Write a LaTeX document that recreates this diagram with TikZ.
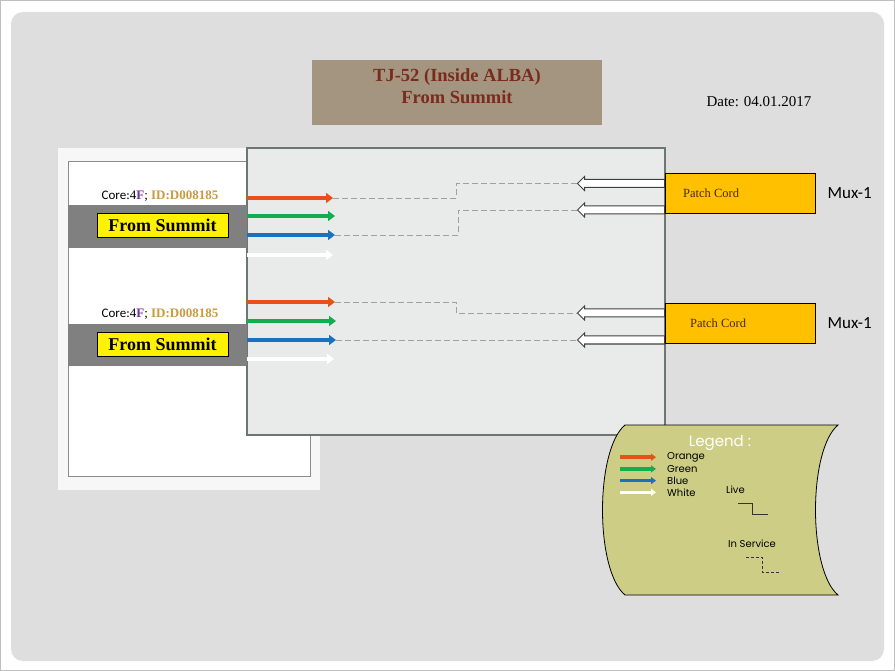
\documentclass[tikz,border=0pt]{standalone}
\usepackage{fontspec}
\setmainfont{Liberation Serif}
\newfontfamily\calib{Carlito}
\newfontfamily\gothic{Poppins}
\usetikzlibrary{positioning, arrows.meta, shapes.arrows}

\definecolor{bgpanel}{HTML}{DEDEDE}
\definecolor{titlebrown}{HTML}{A39580}
\definecolor{titletext}{HTML}{7B2B1C}
\definecolor{mainfill}{HTML}{E9EBEA}
\definecolor{mainedge}{HTML}{6E7674}
\definecolor{band}{HTML}{808080}
\definecolor{fibreorange}{HTML}{E8501A}
\definecolor{fibregreen}{HTML}{12AD4F}
\definecolor{fibreblue}{HTML}{1872C0}
\definecolor{idgold}{HTML}{C99A42}
\definecolor{fpurple}{HTML}{7030A0}
\definecolor{patch}{HTML}{FFC000}
\definecolor{patchtext}{HTML}{4A2A10}
\definecolor{legendfill}{HTML}{CDCD86}
\definecolor{dashgray}{HTML}{A0A0A0}

\tikzstyle{box} = [inner sep=0pt, outer sep=0pt]
\tikzstyle{titlebox} = [box, fill=titlebrown, minimum width=290pt, minimum height=65pt]
\tikzstyle{mainbox} = [box, fill=mainfill, draw=mainedge, line width=1.5pt, minimum width=418pt, minimum height=287pt]
\tikzstyle{bandbox} = [box, fill=band, minimum width=179pt, minimum height=43pt]
\tikzstyle{yellowbox} = [box, fill=yellow, draw=black, line width=0.6pt, minimum width=131pt, minimum height=24pt, font=\bfseries\fontsize{18}{20}\selectfont]
\tikzstyle{patchbox} = [box, fill=patch, draw=black, line width=0.8pt, minimum width=150pt, minimum height=40pt]
\tikzstyle{fibre} = [line width=4.5pt, -{Triangle[length=7pt,width=10pt]}]
\tikzstyle{fibresmall} = [line width=3.5pt, -{Triangle[length=5pt,width=7pt]}]
\tikzstyle{route} = [dashgray, line width=0.8pt, dash pattern=on 6pt off 3pt]
\tikzstyle{hollow} = [single arrow, shape border rotate=180, draw=black!75, fill=white, line width=1pt, inner xsep=0pt, inner ysep=3.5pt, minimum height=87pt, single arrow head extend=3pt, single arrow head indent=0pt]
\tikzstyle{legendtext} = [inner sep=0pt, anchor=west, font=\gothic\fontsize{10}{11}\selectfont]

\begin{document}
\begin{tikzpicture}[x=1pt, y=-1pt]
\useasboundingbox (0,0) rectangle (895,671);
\fill[white] (0,0) rectangle (895,671);
\draw[black!25] (0.5,0.5) rectangle (894.5,670.5);
\fill[bgpanel, rounded corners=12pt] (11,12) rectangle (884,661);

% title and date
\node[titlebox] (title) at (457,92.5) {};
\node[align=center, text=titletext, font=\bfseries\fontsize{18.5}{22}\selectfont] (titletext) at ([yshift=6.5pt]title.center) {TJ-52 (Inside ALBA)\\From Summit};
\node[font=\fontsize{15}{17}\selectfont] (date) at (759,102) {Date: 04.01.2017};

% left panel
\node[box, fill=white!97!black, minimum width=262pt, minimum height=342pt] (panel) at (189,319) {};
\node[box, fill=white, draw=black!45, line width=0.8pt, minimum width=242pt, minimum height=315pt] (inner) at (189,318.5) {};
\node[mainbox] (main) at (456,291.5) {};

\node[bandbox] (band1) at (157.5,226.5) {};
\node[yellowbox] (from1) at (162.5,225) {From Summit};
\node[font=\fontsize{13}{15}\selectfont] (core1) at (160,196) {{\calib Core:}4\textcolor{fpurple}{\bfseries F}; \textcolor{idgold}{\bfseries ID:D008185}};
\node[bandbox, minimum height=42pt] (band2) at (157.5,345) {};
\node[yellowbox] (from2) at (162.5,344) {From Summit};
\node[font=\fontsize{13}{15}\selectfont] (core2) at (160,314) {{\calib Core:}4\textcolor{fpurple}{\bfseries F}; \textcolor{idgold}{\bfseries ID:D008185}};

% patch cords
\node[patchbox] (patch1) at (740,193) {};
\node[inner sep=0pt, anchor=west, text=patchtext, font=\fontsize{12.5}{14}\selectfont, right=18pt of patch1.west] (pc1) {Patch Cord};
\node[anchor=west, font=\calib\fontsize{17}{19}\selectfont, right=9pt of patch1] (mux1) {Mux-1};
\node[patchbox] (patch2) at (740,323) {};
\node[inner sep=0pt, anchor=west, text=patchtext, font=\fontsize{12.5}{14}\selectfont, right=25pt of patch2.west] (pc2) {Patch Cord};
\node[anchor=west, font=\calib\fontsize{17}{19}\selectfont, right=9pt of patch2] (mux2) {Mux-1};

\node[hollow, anchor=tail] (h1) at (patch1.west |- 0,183.5) {};
\node[hollow, anchor=tail] (h2) at (patch1.west |- 0,210) {};
\node[hollow, anchor=tail] (h3) at (patch2.west |- 0,313) {};
\node[hollow, anchor=tail] (h4) at (patch2.west |- 0,340) {};

% fibres
\coordinate (o1) at (333,198);
\coordinate (g1) at (335,216);
\coordinate (b1) at (335,235);
\coordinate (w1) at (333,255);
\coordinate (o2) at (335,302);
\coordinate (g2) at (336,321);
\coordinate (b2) at (336,340);
\coordinate (w2) at (334,359);
\draw[fibre, fibreorange] (main.west |- o1) -- (o1);
\draw[fibre, fibregreen] (main.west |- g1) -- (g1);
\draw[fibre, fibreblue] (main.west |- b1) -- (b1);
\draw[fibre, white] (main.west |- w1) -- (w1);
\draw[fibre, fibreorange] (main.west |- o2) -- (o2);
\draw[fibre, fibregreen] (main.west |- g2) -- (g2);
\draw[fibre, fibreblue] (main.west |- b2) -- (b2);
\draw[fibre, white] (main.west |- w2) -- (w2);

% routes
\coordinate (k1) at (456,183.5);
\coordinate (k2) at (458,210);
\coordinate (k3) at (456,313);
\draw[route] (o1) -| (k1) -- (h1.tip);
\draw[route] (b1) -| (k2) -- (h2.tip);
\draw[route] (o2) -| (k3) -- (h3.tip);
\draw[route] (b2) -- (h4.tip);

% legend
\draw[fill=legendfill, line width=0.8pt] (625,425) -- (838,425)
  .. controls (808,450) and (808,570) .. (838,595) -- (625,595)
  .. controls (595,570) and (595,450) .. cycle;
\node[text=white, font=\gothic\fontsize{15}{17}\selectfont] (legend) at (720,443) {Legend :};
\foreach \c/\t [count=\i] in {fibreorange/Orange, fibregreen/Green, fibreblue/Blue, white/White} {
  \node[legendtext] (lt\i) at (667,445.5+11.7*\i) {\t};
  \draw[fibresmall, \c] (lt\i.west) ++(-47,0) -- ++(36,0);
}
\node[legendtext] (live) at (726,490) {Live};
\draw[black!80, line width=0.8pt] (738,503) -- (752,503) -- (752,514) -- (768,514);
\node[legendtext] (service) at (728,544) {In Service};
\draw[black!80, line width=0.8pt, dash pattern=on 3pt off 2pt] (746,557) -- (762,557) -- (762,572) -- (780,572);
\end{tikzpicture}
\end{document}
